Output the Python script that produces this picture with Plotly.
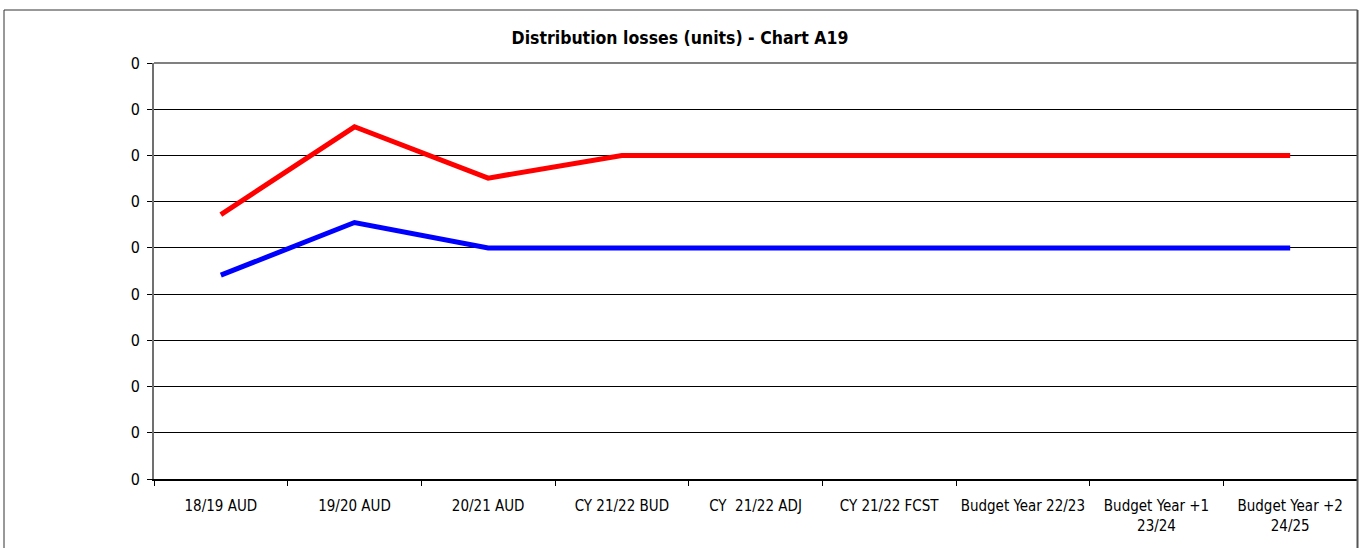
import plotly.graph_objects as go

# Financial years shown along the horizontal axis
categories = [
    "18/19 AUD",
    "19/20 AUD",
    "20/21 AUD",
    "CY 21/22 BUD",
    "CY  21/22 ADJ",
    "CY 21/22 FCST",
    "Budget Year 22/23",
    "Budget Year +1<br>23/24",
    "Budget Year +2<br>24/25",
]

# Distribution loss series (units)
losses_upper = [0.0572, 0.0762, 0.0651, 0.070, 0.070, 0.070, 0.070, 0.070, 0.070]
losses_lower = [0.0441, 0.0555, 0.050, 0.050, 0.050, 0.050, 0.050, 0.050, 0.050]

# Value axis ticks and their (integer-formatted) labels
y_ticks = [0.00, 0.01, 0.02, 0.03, 0.04, 0.05, 0.06, 0.07, 0.08, 0.09]
y_tick_labels = ["0", "0", "0", "0", "0", "0", "0", "0", "0", "0"]

FONT = "DejaVu Sans Condensed, Liberation Sans Narrow, Arial Narrow, Liberation Sans, Arial, sans-serif"

fig = go.Figure()
fig.add_trace(go.Scatter(
    x=categories, y=losses_upper, mode="lines",
    line=dict(color="#FF0000", width=5), showlegend=False,
))
fig.add_trace(go.Scatter(
    x=categories, y=losses_lower, mode="lines",
    line=dict(color="#0000FF", width=5), showlegend=False,
))

W, H = 1364, 548
ml, mr, mt, mb = 154, 7, 63, 69
pw, ph = W - ml - mr, H - mt - mb

def px_x(v):
    return (v - ml) / pw

def px_y(v):
    return (H - mb - v) / ph

fig.update_layout(
    width=W, height=H,
    margin=dict(l=ml, r=mr, t=mt, b=mb),
    paper_bgcolor="white", plot_bgcolor="white",
    font=dict(family=FONT, size=14, color="black"),
    title=dict(
        text="<b>Distribution losses (units) - Chart A19</b>",
        x=px_x(680), xanchor="center", xref="paper",
        y=1 - 38 / H, yanchor="middle",
        font=dict(family=FONT, size=17.5, color="black"),
    ),
    xaxis=dict(
        type="category",
        range=[-0.5, len(categories) - 0.5],
        showgrid=False,
        tickson="boundaries",
        ticks="outside", ticklen=5, tickcolor="black", tickwidth=1,
        ticklabelstandoff=12,
        showline=True, linecolor="black", linewidth=2,
        tickfont=dict(family=FONT, size=15),
        zeroline=False,
    ),
    yaxis=dict(
        range=[0, 0.09],
        tickvals=y_ticks, ticktext=y_tick_labels,
        showgrid=True, gridcolor="black", gridwidth=1,
        ticks="outside", ticklen=5, tickcolor="black",
        ticklabelstandoff=4,
        showline=True, linecolor="#707070", linewidth=2,
        tickfont=dict(family=FONT, size=16),
        zeroline=False,
    ),
    shapes=[
        # outer chart frame
        dict(type="rect", xref="paper", yref="paper",
             x0=px_x(4), x1=px_x(1357.5), y0=px_y(560), y1=px_y(10),
             line=dict(color="#333333", width=1), layer="below"),
        # darker right-hand edge
        dict(type="line", xref="paper", yref="paper",
             x0=px_x(1357.5), x1=px_x(1357.5), y0=px_y(560), y1=px_y(10),
             line=dict(color="#555555", width=2)),
        # top border of the plot area
        dict(type="line", xref="paper", yref="paper",
             x0=0, x1=1, y0=1, y1=1,
             line=dict(color="#808080", width=2)),
    ],
)

fig.write_html("out.html")
